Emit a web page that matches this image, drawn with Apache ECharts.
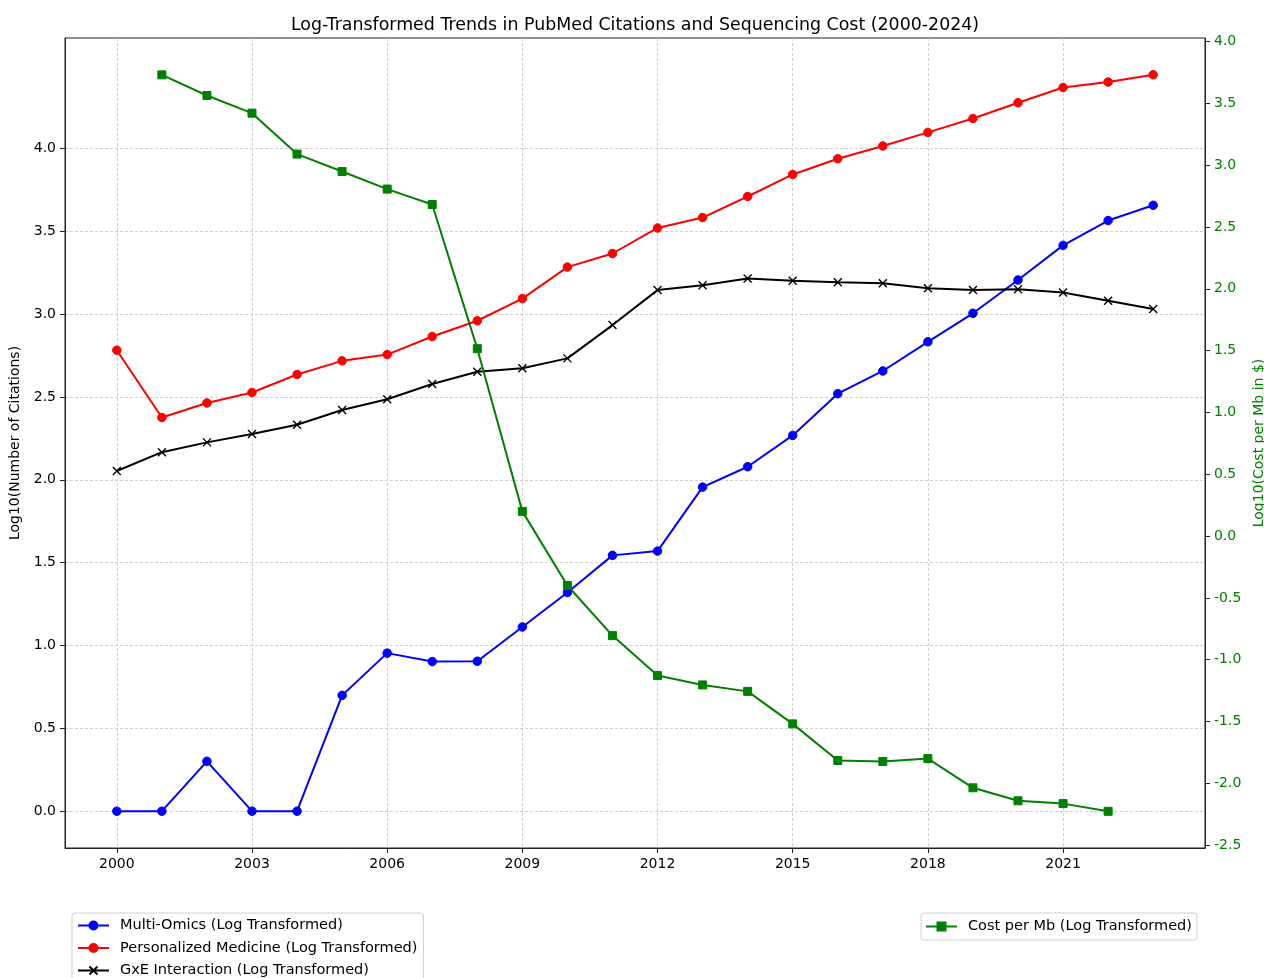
<!DOCTYPE html>
<html>
<head>
<meta charset="utf-8">
<script src="https://cdn.jsdelivr.net/npm/echarts@6/dist/echarts.min.js"></script>
<style>
html,body{margin:0;padding:0;background:#fff;overflow:hidden;width:1264px;height:978px;}
#chart{width:1264px;height:978px;position:absolute;left:0;top:0;}
</style>
</head>
<body>
<div id="chart"></div>
<script>
// ---- data ----
const years = [2000,2001,2002,2003,2004,2005,2006,2007,2008,2009,2010,2011,2012,2013,2014,2015,2016,2017,2018,2019,2020,2021,2022,2023];
const multiOmics = [0,0,0.301,0,0,0.699,0.954,0.903,0.905,1.112,1.320,1.544,1.570,1.956,2.079,2.268,2.520,2.657,2.833,3.005,3.206,3.415,3.565,3.657];
const personalizedMedicine = [2.782,2.376,2.464,2.527,2.636,2.718,2.756,2.865,2.960,3.094,3.284,3.366,3.520,3.583,3.710,3.843,3.938,4.015,4.097,4.181,4.276,4.368,4.401,4.445];
const gxeInteraction = [2.053,2.167,2.226,2.276,2.332,2.421,2.486,2.578,2.652,2.674,2.733,2.934,3.145,3.175,3.215,3.202,3.193,3.187,3.156,3.146,3.150,3.131,3.081,3.031];
const costYears = [2001,2002,2003,2004,2005,2006,2007,2008,2009,2010,2011,2012,2013,2014,2015,2016,2017,2018,2019,2020,2021,2022];
const costPerMb = [3.731,3.564,3.421,3.090,2.949,2.807,2.682,1.516,0.200,-0.400,-0.805,-1.128,-1.204,-1.256,-1.519,-1.815,-1.823,-1.800,-2.036,-2.141,-2.164,-2.226];
const xTicks = [2000,2003,2006,2009,2012,2015,2018,2021];
const leftTicks = [0,0.5,1.0,1.5,2.0,2.5,3.0,3.5,4.0];
const rightTicks = [-2.5,-2.0,-1.5,-1.0,-0.5,0,0.5,1.0,1.5,2.0,2.5,3.0,3.5,4.0];
const seriesNames = ['Multi-Omics (Log Transformed)','Personalized Medicine (Log Transformed)','GxE Interaction (Log Transformed)','Cost per Mb (Log Transformed)'];

const FONT = 'DejaVu Sans';
const pairs = (xs, ys) => xs.map((x, i) => [x, ys[i]]);
const xMarker = 'path://M0,0L10,10M10,0L0,10';

const chart = echarts.init(document.getElementById('chart'), null, {renderer:'canvas', width:1264, height:978});
const tickStyle = {show:true, inside:false, length:5, lineStyle:{color:'#222', width:1}};
const legendCommon = {
  orient:'vertical', itemWidth:31, itemHeight:10, itemGap:7.5,
  backgroundColor:'#fff', borderColor:'#d0d0d0', borderWidth:1, borderRadius:3,
  textStyle:{fontFamily:FONT, fontSize:14.5, color:'#000', padding:[0,0,0,6]}
};
const option = {
  animation:false,
  backgroundColor:'#fff',
  textStyle:{fontFamily:FONT},
  title:{
    text:'Log-Transformed Trends in PubMed Citations and Sequencing Cost (2000-2024)',
    left:630, textAlign:'center', top:12,
    textStyle:{fontFamily:FONT, fontSize:17.4, fontWeight:'normal', color:'#000'}
  },
  grid:{left:65, top:38, width:1140, height:810, show:true, borderColor:'#222', borderWidth:1, backgroundColor:'transparent', containLabel:false, outerBoundsMode:'none'},
  legend:[
    Object.assign({data:seriesNames.slice(0,3), left:72, top:913, height:100, padding:[5,6,5,5]}, legendCommon),
    Object.assign({data:[seriesNames[3]], left:921, top:913, padding:[6,5,6,4]}, legendCommon)
  ],
  xAxis:{
    type:'value', min:1998.85, max:2024.15,
    axisLine:{show:true, onZero:false, lineStyle:{color:'#222', width:1}},
    axisTick:Object.assign({customValues:xTicks}, tickStyle),
    axisLabel:{customValues:xTicks, margin:9, fontFamily:FONT, fontSize:14, color:'#000', formatter:v=>String(v)},
    splitLine:{show:true, lineStyle:{color:'#c4c4c4', width:0.8, type:[3,2]}}
  },
  yAxis:[
    {
      type:'value', min:-0.2222, max:4.6667, position:'left',
      name:'Log10(Number of Citations)', nameLocation:'middle', nameGap:34, nameRotate:90,
      nameTextStyle:{fontFamily:FONT, fontSize:14, color:'#000'},
      axisLine:{show:true, onZero:false, lineStyle:{color:'#222', width:1}},
      axisTick:Object.assign({customValues:leftTicks}, tickStyle),
      axisLabel:{customValues:leftTicks, margin:9, fontFamily:FONT, fontSize:14, color:'#000', formatter:v=>v.toFixed(1)},
      splitLine:{show:true, lineStyle:{color:'#c4c4c4', width:0.8, type:[3,2]}}
    },
    {
      type:'value', min:-2.523, max:4.029, position:'right',
      name:'Log10(Cost per Mb in $)', nameLocation:'middle', nameGap:38, nameRotate:90,
      nameTextStyle:{fontFamily:FONT, fontSize:14, color:'#008000'},
      axisLine:{show:true, onZero:false, lineStyle:{color:'#222', width:1}},
      axisTick:Object.assign({customValues:rightTicks}, tickStyle),
      axisLabel:{customValues:rightTicks, margin:9, fontFamily:FONT, fontSize:14, color:'#008000', formatter:v=>v.toFixed(1)},
      splitLine:{show:false}
    }
  ],
  series:[
    {
      name:seriesNames[0], type:'line', yAxisIndex:0, data:pairs(years, multiOmics),
      symbol:'circle', symbolSize:8.5, showAllSymbol:true,
      lineStyle:{color:'#0000ff', width:2},
      itemStyle:{color:'#0000ff', borderColor:'#0000ff', borderWidth:1}
    },
    {
      name:seriesNames[1], type:'line', yAxisIndex:0, data:pairs(years, personalizedMedicine),
      symbol:'circle', symbolSize:8.5, showAllSymbol:true,
      lineStyle:{color:'#ff0000', width:2},
      itemStyle:{color:'#ff0000', borderColor:'#ff0000', borderWidth:1}
    },
    {
      name:seriesNames[2], type:'line', yAxisIndex:0, data:pairs(years, gxeInteraction),
      symbol:xMarker, symbolSize:8, showAllSymbol:true,
      lineStyle:{color:'#000000', width:2},
      itemStyle:{color:'#000000', borderColor:'#000000', borderWidth:1.4}
    },
    {
      name:seriesNames[3], type:'line', yAxisIndex:1, data:pairs(costYears, costPerMb),
      symbol:'rect', symbolSize:8, showAllSymbol:true,
      lineStyle:{color:'#008000', width:2},
      itemStyle:{color:'#008000', borderColor:'#008000', borderWidth:1}
    }
  ]
};
chart.setOption(option);
</script>
</body>
</html>
